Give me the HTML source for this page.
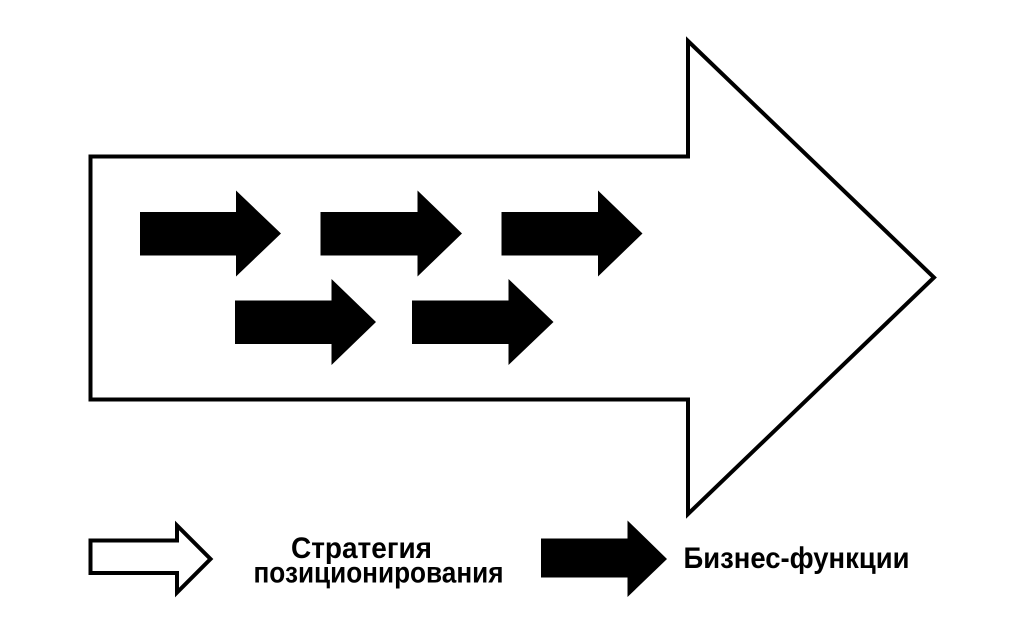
<!DOCTYPE html>
<html>
<head>
<meta charset="utf-8">
<style>
html,body{margin:0;padding:0;background:#fff;}
svg{display:block;}
text{font-family:"Liberation Sans","DejaVu Sans",sans-serif;font-weight:bold;fill:#000;}
</style>
</head>
<body>
<svg width="1024" height="634" viewBox="0 0 1024 634" xmlns="http://www.w3.org/2000/svg">
<rect width="1024" height="634" fill="#fff"/>
<!-- big outline arrow -->
<polygon points="90.5,156.5 688,156.5 688,41 934,277.5 688,514 688,399.5 90.5,399.5" fill="#fff" stroke="#000" stroke-width="4" stroke-linejoin="miter" stroke-miterlimit="10"/>
<!-- small black arrows row 1 -->
<polygon points="140,212 236,212 236,190.5 281,233.5 236,276.5 236,255.5 140,255.5" fill="#000"/>
<polygon points="320.5,212 417.5,212 417.5,190.5 462,233.5 417.5,276.5 417.5,255.5 320.5,255.5" fill="#000"/>
<polygon points="501.5,212 598,212 598,190.5 642.5,233.5 598,276.5 598,255.5 501.5,255.5" fill="#000"/>
<!-- row 2 -->
<polygon points="235,300.5 331.5,300.5 331.5,279 376,322 331.5,365 331.5,344 235,344" fill="#000"/>
<polygon points="412,300.5 508.5,300.5 508.5,279 553.5,322 508.5,365 508.5,344 412,344" fill="#000"/>
<!-- legend outline arrow -->
<polygon points="90.5,540.5 177,540.5 177,525.5 210.5,559 177,592.5 177,573 90.5,573" fill="#fff" stroke="#000" stroke-width="4" stroke-linejoin="miter" stroke-miterlimit="10"/>
<text x="291" y="558" font-size="29.5" textLength="141" lengthAdjust="spacingAndGlyphs">Стратегия</text>
<text x="253.5" y="582.5" font-size="29.5" textLength="250" lengthAdjust="spacingAndGlyphs">позиционирования</text>
<!-- legend black arrow -->
<polygon points="541,538.5 627.5,538.5 627.5,520.5 667,559 627.5,597 627.5,577.5 541,577.5" fill="#000"/>
<text x="683.5" y="568" font-size="29.5" textLength="226" lengthAdjust="spacingAndGlyphs">Бизнес-функции</text>
</svg>
</body>
</html>
